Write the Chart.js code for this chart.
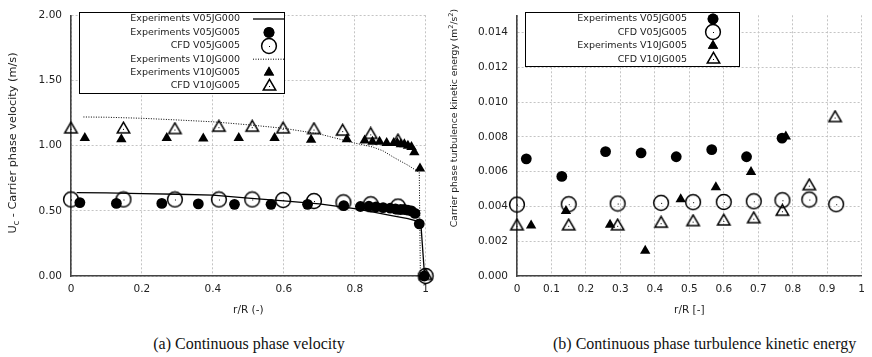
<!DOCTYPE html>
<html>
<head>
<meta charset="utf-8">
<script src="https://cdn.jsdelivr.net/npm/chart.js@4.4.1/dist/chart.umd.min.js"></script>
<style>
  body { margin: 0; background: #fff; width: 872px; height: 357px; position: relative; overflow: hidden; }
  #velChart { position: absolute; left: 0; top: 0; }
  #tkeChart { position: absolute; left: 436px; top: 0; }
  .cap { position: absolute; top: 336px; line-height: 16px; font-family: "Liberation Serif", "Times New Roman", serif;
         font-size: 16px; color: #111; white-space: nowrap; text-align: center; }
</style>
</head>
<body>
<canvas id="velChart" width="436" height="322" style="width:436px;height:322px"></canvas>
<canvas id="tkeChart" width="436" height="322" style="width:436px;height:322px"></canvas>
<div class="cap" style="left:99px;width:300px">(a) Continuous phase velocity</div>
<div class="cap" style="left:553px;width:300px">(b) Continuous phase turbulence kinetic energy</div>
<script>
// ---- (a) carrier phase velocity, r/R vs Uc (m/s) ----
const rLineV05 = [0.016, 0.1, 0.2, 0.3, 0.4, 0.5, 0.6, 0.7, 0.8, 0.85, 0.9, 0.95, 0.978, 0.987, 0.997];
const uLineV05 = [0.64, 0.638, 0.632, 0.627, 0.62, 0.598, 0.577, 0.553, 0.517, 0.492, 0.465, 0.44, 0.42, 0.38, 0.0];

const rExpV05 = [0.025, 0.128, 0.256, 0.359, 0.461, 0.564, 0.667, 0.769, 0.816, 0.84, 0.86, 0.88, 0.9, 0.915, 0.93, 0.94, 0.95, 0.96, 0.97, 0.982, 0.996];
const uExpV05 = [0.563, 0.557, 0.557, 0.553, 0.55, 0.55, 0.55, 0.54, 0.533, 0.535, 0.53, 0.525, 0.52, 0.515, 0.51, 0.51, 0.505, 0.5, 0.48, 0.40, 0.0];

const rCfdV05 = [0, 0.148, 0.293, 0.417, 0.511, 0.598, 0.685, 0.768, 0.845, 0.922, 1.0];
const uCfdV05 = [0.587, 0.587, 0.587, 0.587, 0.587, 0.583, 0.575, 0.565, 0.55, 0.533, 0.0];

const rLineV10 = [0.035, 0.1, 0.2, 0.3, 0.4, 0.5, 0.6, 0.7, 0.8, 0.85, 0.88, 0.91, 0.95, 0.982, 0.985, 0.997];
const uLineV10 = [1.22, 1.218, 1.21, 1.197, 1.183, 1.16, 1.133, 1.09, 1.02, 0.99, 0.96, 0.91, 0.85, 0.795, 0.02, 0.0];

const rExpV10 = [0.039, 0.142, 0.27, 0.373, 0.473, 0.574, 0.677, 0.778, 0.828, 0.85, 0.87, 0.89, 0.91, 0.92, 0.93, 0.94, 0.95, 0.96, 0.968, 0.984, 0.996];
const uExpV10 = [1.058, 1.05, 1.058, 1.055, 1.058, 1.058, 1.045, 1.05, 1.04, 1.03, 1.03, 1.02, 1.02, 1.02, 1.01, 1.01, 1.0, 0.99, 0.95, 0.825, 0.0];

const rCfdV10 = [0, 0.148, 0.293, 0.417, 0.511, 0.598, 0.685, 0.766, 0.845, 0.922, 1.0];
const uCfdV10 = [1.125, 1.125, 1.12, 1.138, 1.138, 1.125, 1.12, 1.108, 1.083, 1.033, 0.0];

const velTicks = [0, 0.5, 1.0, 1.5, 2.0];

// ---- (b) carrier phase TKE, r/R vs k (m2/s2) ----
const rKExpV05 = [0.027, 0.13, 0.257, 0.36, 0.462, 0.565, 0.666, 0.769];
const kExpV05 = [0.00674, 0.00573, 0.00716, 0.00708, 0.00686, 0.00727, 0.00686, 0.00793];

const rKCfdV05 = [0, 0.15, 0.292, 0.418, 0.511, 0.6, 0.687, 0.77, 0.848, 0.926];
const kCfdV05 = [0.00411, 0.00413, 0.00417, 0.00421, 0.00425, 0.00426, 0.0043, 0.00436, 0.0044, 0.00413];

const rKExpV10 = [0.041, 0.142, 0.27, 0.372, 0.475, 0.577, 0.679, 0.78];
const kExpV10 = [0.00291, 0.00374, 0.00295, 0.00145, 0.00442, 0.00511, 0.00599, 0.00802];

const rKCfdV10 = [0, 0.15, 0.292, 0.418, 0.511, 0.6, 0.687, 0.77, 0.848, 0.923];
const kCfdV10 = [0.00286, 0.00286, 0.00286, 0.00301, 0.0031, 0.00314, 0.00327, 0.0037, 0.00517, 0.00909];

const FONT = "'DejaVu Sans', sans-serif";
const INK = '#222';

function pts(xs, ys) { return xs.map((x, i) => ({ x: x, y: ys[i] })); }

// open gnuplot-like markers with a small dot in the middle
function openMarker(kind) {
  const size = kind === 'circle' ? 18 : 17;
  const c = document.createElement('canvas');
  c.width = size; c.height = size;
  const g = c.getContext('2d');
  const m = size / 2;
  g.strokeStyle = '#000'; g.lineWidth = 1.5;
  g.beginPath();
  if (kind === 'circle') {
    g.arc(m, m, 7.4, 0, Math.PI * 2);
  } else {
    const r = 7.2;
    g.moveTo(m, m - r);
    g.lineTo(m + r * 0.866, m + r * 0.5);
    g.lineTo(m - r * 0.866, m + r * 0.5);
    g.closePath();
  }
  g.stroke();
  g.fillStyle = '#000';
  g.fillRect(Math.floor(m), Math.floor(m), 1, 1);
  return c;
}
const openCircle = openMarker('circle');
const openTriangle = openMarker('triangle');

function lineSet(label, data, dash) {
  return { label, data, showLine: true, borderColor: '#000', borderWidth: dash ? 1 : 1.3,
           borderDash: dash || [], pointRadius: 0, tension: 0 };
}
function markSet(label, data, style) {
  if (style === 'fcircle') return { label, data, pointStyle: 'circle', pointRadius: 5.4, backgroundColor: '#000', borderColor: '#000', borderWidth: 0 };
  if (style === 'ftriangle') return { label, data, pointStyle: 'triangle', pointRadius: 6, backgroundColor: '#000', borderColor: '#000', borderWidth: 0 };
  if (style === 'ocircle') return { label, data, pointStyle: openCircle, pointRadius: 7 };
  return { label, data, pointStyle: openTriangle, pointRadius: 7 };
}

// legend box drawn in gnuplot style: text right aligned, sample to the right
function keyPlugin(box) {
  return {
    id: 'gnuKey',
    afterDatasetsDraw(chart) {
      const ctx = chart.ctx;
      ctx.save();
      ctx.fillStyle = '#fff';
      ctx.fillRect(box.x1, box.y1, box.x2 - box.x1, box.y2 - box.y1);
      ctx.strokeStyle = '#000'; ctx.lineWidth = 1;
      ctx.strokeRect(box.x1 + 0.5, box.y1 + 0.5, box.x2 - box.x1, box.y2 - box.y1);
      ctx.font = '9.5px ' + FONT;
      ctx.textAlign = 'right'; ctx.textBaseline = 'middle';
      chart.data.datasets.forEach((ds, i) => {
        const y = box.row0 + i * box.step;
        ctx.fillStyle = INK;
        ctx.fillText(ds.label, box.textRight, y);
        if (ds.showLine) {
          ctx.strokeStyle = '#000'; ctx.lineWidth = ds.borderWidth;
          ctx.setLineDash(ds.borderDash);
          ctx.beginPath(); ctx.moveTo(box.sym - 16, y); ctx.lineTo(box.sym + 16, y); ctx.stroke();
          ctx.setLineDash([]);
        } else if (ds.pointStyle instanceof HTMLCanvasElement) {
          ctx.drawImage(ds.pointStyle, Math.round(box.sym - ds.pointStyle.width / 2), Math.round(y - ds.pointStyle.height / 2));
        } else {
          Chart.helpers.drawPoint(ctx, { pointStyle: ds.pointStyle, radius: ds.pointRadius, borderWidth: 0 }, box.sym, y);
          ctx.fillStyle = '#000'; ctx.fill();
        }
      });
      ctx.restore();
    }
  };
}

// rotated y-axis title with sub/superscripts
function yTitlePlugin(parts, cx, cy, size) {
  return {
    id: 'yTitle',
    afterDraw(chart) {
      const ctx = chart.ctx;
      const small = size * 0.72;
      ctx.save();
      ctx.translate(cx, cy);
      ctx.rotate(-Math.PI / 2);
      ctx.fillStyle = INK; ctx.textBaseline = 'middle'; ctx.textAlign = 'left';
      let total = 0;
      parts.forEach(p => { ctx.font = (p.s ? small : size) + 'px ' + FONT; p.w = ctx.measureText(p.t).width; total += p.w; });
      let x = -total / 2;
      parts.forEach(p => {
        ctx.font = (p.s ? small : size) + 'px ' + FONT;
        ctx.fillText(p.t, x, p.s === 'sub' ? 4 : p.s === 'sup' ? -4 : 0);
        x += p.w;
      });
      ctx.restore();
    }
  };
}

function axes(yMin, yMax, yStep, yFmt, xStep, xTitle, yWidth, keepY) {
  return {
    x: {
      type: 'linear', min: 0, max: 1,
      afterFit(s) { s.height = 46; },
      ticks: { stepSize: xStep, padding: 7, color: INK, font: { family: FONT, size: 10.5 },
               callback: v => (v === 0 || v === 1) ? String(v) : v.toFixed(1) },
      grid: { color: '#c4c4c4', lineWidth: 1, drawTicks: false },
      border: { display: true, color: '#444', width: 1.6, dash: [2, 2] },
      title: { display: true, text: xTitle, color: INK, font: { family: FONT, size: 10.5 }, padding: { top: 0, bottom: 5 } }
    },
    y: {
      type: 'linear', min: yMin, max: yMax,
      afterFit(s) { s.width = yWidth; },
      afterBuildTicks(s) { s.ticks = s.ticks.filter(t => keepY(t.value)); },
      ticks: { stepSize: yStep, padding: 9, color: INK, font: { family: FONT, size: 10.5 }, callback: yFmt },
      grid: { color: '#c4c4c4', lineWidth: 1, drawTicks: false },
      border: { display: true, color: '#444', width: 1.6, dash: [2, 2] }
    }
  };
}

new Chart(document.getElementById('velChart'), {
  type: 'scatter',
  data: {
    datasets: [
      lineSet('Experiments V05JG000', pts(rLineV05, uLineV05)),
      markSet('Experiments V05JG005', pts(rExpV05, uExpV05), 'fcircle'),
      markSet('CFD V05JG005', pts(rCfdV05, uCfdV05), 'ocircle'),
      lineSet('Experiments V10JG000', pts(rLineV10, uLineV10), [1, 1.5]),
      markSet('Experiments V10JG005', pts(rExpV10, uExpV10), 'ftriangle'),
      markSet('CFD V10JG005', pts(rCfdV10, uCfdV10), 'otriangle')
    ]
  },
  options: {
    responsive: false, animation: false, clip: false,
    layout: { padding: { left: 0, right: 8, top: 9, bottom: 0 } },
    plugins: { legend: { display: false }, tooltip: { enabled: false } },
    scales: axes(0, 2, 0.5, v => v.toFixed(2), 0.2, 'r/R (-)', 71,
                 v => velTicks.some(t => Math.abs(t - v) < 1e-9))
  },
  plugins: [
    keyPlugin({ x1: 79, y1: 12, x2: 284, y2: 93, textRight: 240, sym: 269, row0: 19, step: 13.4 }),
    yTitlePlugin([{ t: 'U' }, { t: 'c', s: 'sub' }, { t: ' - Carrier phase velocity (m/s)' }], 13, 143, 11.3)
  ]
});

new Chart(document.getElementById('tkeChart'), {
  type: 'scatter',
  data: {
    datasets: [
      markSet('Experiments V05JG005', pts(rKExpV05, kExpV05), 'fcircle'),
      markSet('CFD V05JG005', pts(rKCfdV05, kCfdV05), 'ocircle'),
      markSet('Experiments V10JG005', pts(rKExpV10, kExpV10), 'ftriangle'),
      markSet('CFD V10JG005', pts(rKCfdV10, kCfdV10), 'otriangle')
    ]
  },
  options: {
    responsive: false, animation: false, clip: false,
    layout: { padding: { left: 0, right: 7, top: 9, bottom: 0 } },
    plugins: { legend: { display: false }, tooltip: { enabled: false } },
    scales: axes(0, 0.015, 0.002, v => v.toFixed(3), 0.1, 'r/R [-]', 81,
                 v => v < 0.0145)
  },
  plugins: [
    keyPlugin({ x1: 89, y1: 12, x2: 303, y2: 66, textRight: 251, sym: 277, row0: 19, step: 13.4 }),
    yTitlePlugin([{ t: 'Carrier phase turbulence kinetic energy (m' }, { t: '2', s: 'sup' }, { t: '/s' }, { t: '2', s: 'sup' }, { t: ')' }], 19, 118, 9.2)
  ]
});
</script>
</body>
</html>
